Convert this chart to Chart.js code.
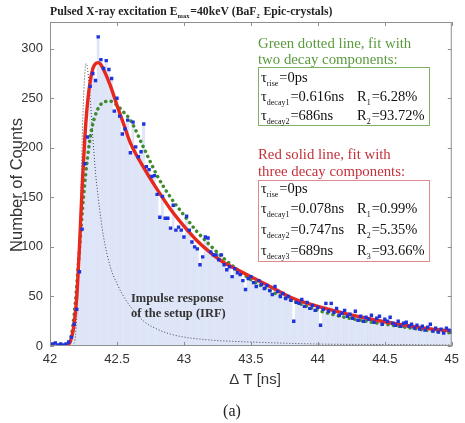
<!DOCTYPE html>
<html>
<head>
<meta charset="utf-8">
<script src="https://cdn.jsdelivr.net/npm/chart.js@4.4.0/dist/chart.umd.min.js"></script>
<style>
  html, body { margin: 0; padding: 0; background: #fff; }
  #wrap { width: 465px; height: 423px; }
</style>
</head>
<body>
<div id="wrap"><canvas id="grafico"></canvas></div>
<script>
// Bins del histograma (ns) y cuentas medidas
const binT = [
  42.00,42.02,42.04,42.06,42.08,42.10,42.12,42.14,42.16,42.18,
  42.20,42.22,42.24,42.26,42.28,42.30,42.32,42.34,42.36,42.38,
  42.40,42.42,42.44,42.46,42.48,42.50,42.52,42.54,42.56,42.58,
  42.60,42.62,42.64,42.66,42.68,42.70,42.72,42.74,42.76,42.78,
  42.80,42.82,42.84,42.86,42.88,42.90,42.92,42.94,42.96,42.98,
  43.00,43.02,43.04,43.06,43.08,43.10,43.12,43.14,43.16,43.18,
  43.20,43.22,43.24,43.26,43.28,43.30,43.32,43.34,43.36,43.38,
  43.40,43.42,43.44,43.46,43.48,43.50,43.52,43.54,43.56,43.58,
  43.60,43.62,43.64,43.66,43.68,43.70,43.72,43.74,43.76,43.78,
  43.80,43.82,43.84,43.86,43.88,43.90,43.92,43.94,43.96,43.98,
  44.00,44.02,44.04,44.06,44.08,44.10,44.12,44.14,44.16,44.18,
  44.20,44.22,44.24,44.26,44.28,44.30,44.32,44.34,44.36,44.38,
  44.40,44.42,44.44,44.46,44.48,44.50,44.52,44.54,44.56,44.58,
  44.60,44.62,44.64,44.66,44.68,44.70,44.72,44.74,44.76,44.78,
  44.80,44.82,44.84,44.86,44.88,44.90,44.92,44.94,44.96,44.98,
  45.00
];
const counts = [
  1,2,3,1,2,1,2,4,9,22,
  37,75,118,184,211,262,275,268,312,289,
  280,288,279,270,237,250,232,214,219,228,
  195,226,201,191,196,224,181,178,171,172,
  153,130,151,129,129,119,142,117,120,117,
  110,131,117,105,100,98,82,90,110,109,
  95,92,92,87,92,82,77,80,70,78,
  74,72,66,57,68,70,64,60,66,62,
  58,61,56,52,60,55,50,53,48,50,
  46,25,44,43,47,40,44,38,41,36,
  39,21,37,43,35,43,34,38,31,33,
  36,30,32,28,35,26,30,25,29,27,
  31,24,28,30,22,27,25,29,23,21,
  25,20,23,24,20,22,18,21,17,20,
  16,19,22,15,18,14,17,13,18,16,
  14
];

// Ajuste de tres componentes (línea roja)
const redT = [42.10,42.14,42.16,42.18,42.20,42.22,42.24,42.26,42.28,42.30,42.32,42.34,42.36,42.38,42.40,42.45,42.50,42.55,42.60,42.70,42.80,42.90,43.00,43.10,43.20,43.30,43.40,43.50,43.60,43.70,43.80,43.90,44.00,44.20,44.40,44.60,44.80,45.00];
const redY = [0,2,8,22,50,100,160,210,245,267,280,285,286,284,279,263,243,224,205,180,158,138,121,106,94,84,77,70,63,56,49,44,40,33,27,22,18,15];

// Ajuste de dos componentes (línea verde punteada)
const greenT = [42.12,42.15,42.17,42.19,42.21,42.23,42.25,42.28,42.31,42.35,42.40,42.45,42.50,42.55,42.60,42.70,42.80,42.90,43.00,43.10,43.20,43.30,43.40,43.50,43.60,43.70,43.80,43.90,44.00,44.20,44.40,44.60,44.80,45.00];
const greenY = [0,5,20,45,80,115,150,190,218,237,246,247,243,236,228,200,172,150,132,115,101,88,77,67,59,52,46,41,36,29,24,20,16,13];

// Respuesta al impulso (IRF)
const irfT = [42.17,42.19,42.21,42.23,42.245,42.26,42.27,42.28,42.30,42.32,42.34,42.36,42.38,42.40,42.45,42.50,42.55,42.60,42.70,42.80,42.90,43.00,43.20,43.50,44.00,44.50,45.00];
const irfY = [0,10,60,150,230,275,285,280,250,210,175,150,128,110,80,63,50,40,25,17,12,9,6,4,2,1.5,1];

const xTicks = [42, 42.5, 43, 43.5, 44, 44.5, 45];
const yTicks = [0, 50, 100, 150, 200, 250, 300];

const serif = '"Liberation Serif", "DejaVu Serif", serif';
const sans = '"Liberation Sans", Arial, sans-serif';

function pares(xs, ys) {
    return xs.map((x, i) => ({ x: x, y: ys[i] }));
}

// Dibuja texto con subíndices: runs = [[texto, esSub]]
function textoSub(ctx, x, y, runs, size, color, weight) {
    let cx = x;
    weight = weight || '';
    runs.forEach(r => {
        const sub = r[1];
        const fs = sub ? size * 0.55 : size;
        ctx.font = weight + ' ' + fs + 'px ' + serif;
        ctx.fillStyle = color;
        ctx.textBaseline = 'alphabetic';
        ctx.textAlign = 'left';
        ctx.fillText(r[0], cx, y + (sub ? size * 0.28 : 0));
        cx += ctx.measureText(r[0]).width + (sub ? 1 : 0);
    });
    return cx;
}

const marcoPlugin = {
    id: 'marco',
    afterDatasetsDraw(chart) {
        const ctx = chart.ctx;
        const a = chart.chartArea;
        const sx = chart.scales.x, sy = chart.scales.y;
        ctx.save();
        ctx.strokeStyle = '#8f8f8f';
        ctx.lineWidth = 1;
        ctx.strokeRect(a.left + 0.5, a.top + 0.5, a.right - a.left - 1, a.bottom - a.top - 1);
        ctx.beginPath();
        xTicks.forEach(v => {
            const px = Math.round(sx.getPixelForValue(v)) + 0.5;
            ctx.moveTo(px, a.bottom); ctx.lineTo(px, a.bottom - 4);
            ctx.moveTo(px, a.top); ctx.lineTo(px, a.top + 4);
        });
        yTicks.forEach(v => {
            const py = Math.round(sy.getPixelForValue(v)) + 0.5;
            ctx.moveTo(a.left, py); ctx.lineTo(a.left + 4, py);
            ctx.moveTo(a.right, py); ctx.lineTo(a.right - 4, py);
        });
        ctx.stroke();
        ctx.restore();
    },
    afterDraw(chart) {
        const ctx = chart.ctx;
        ctx.save();
        // título
        textoSub(ctx, 50, 15, [['Pulsed X-ray excitation E', 0], ['max', 1], ['=40keV (BaF', 0], ['2', 1], [' Epic-crystals)', 0]], 11.7, '#222', 'bold');

        // etiquetas de ejes
        ctx.fillStyle = '#333';
        ctx.font = '15px ' + sans;
        ctx.textAlign = 'center';
        ctx.textBaseline = 'middle';
        ctx.fillText('\u0394 T [ns]', 255, 380);
        ctx.save();
        ctx.translate(17, 185);
        ctx.rotate(-Math.PI / 2);
        ctx.font = '16.5px ' + sans;
        ctx.fillText('Number of Counts', 0, 0);
        ctx.restore();
        ctx.font = '16px ' + serif;
        ctx.fillStyle = '#222';
        ctx.fillText('(a)', 232, 412);

        // cuadro verde
        const verde = '#5a9a3c';
        ctx.font = '14.8px ' + serif;
        ctx.fillStyle = verde;
        ctx.textAlign = 'left';
        ctx.textBaseline = 'alphabetic';
        ctx.fillText('Green dotted line, fit with', 258, 48);
        ctx.fillText('two decay components:', 258, 64);
        ctx.strokeStyle = '#7fb06a';
        ctx.lineWidth = 1;
        ctx.strokeRect(258.5, 67.5, 171, 58);
        const fs = 14.5, negro = '#111';
        textoSub(ctx, 261, 82, [['\u03c4', 0], ['rise', 1], ['=0ps', 0]], fs, negro);
        textoSub(ctx, 261, 101, [['\u03c4', 0], ['decay1', 1], ['=0.616ns', 0]], fs, negro);
        textoSub(ctx, 357, 101, [['R', 0], ['1', 1], ['=6.28%', 0]], fs, negro);
        textoSub(ctx, 261, 120, [['\u03c4', 0], ['decay2', 1], ['=686ns', 0]], fs, negro);
        textoSub(ctx, 357, 120, [['R', 0], ['2', 1], ['=93.72%', 0]], fs, negro);

        // cuadro rojo
        const rojo = '#c42f3a';
        ctx.font = '14.8px ' + serif;
        ctx.fillStyle = rojo;
        ctx.textAlign = 'left';
        ctx.fillText('Red solid line, fit with', 258, 159);
        ctx.fillText('three decay components:', 258, 176);
        ctx.strokeStyle = '#dc8a8e';
        ctx.strokeRect(258.5, 180.5, 171, 81);
        textoSub(ctx, 261, 193, [['\u03c4', 0], ['rise', 1], ['=0ps', 0]], fs, negro);
        textoSub(ctx, 261, 213, [['\u03c4', 0], ['decay1', 1], ['=0.078ns', 0]], fs, negro);
        textoSub(ctx, 357, 213, [['R', 0], ['1', 1], ['=0.99%', 0]], fs, negro);
        textoSub(ctx, 261, 234, [['\u03c4', 0], ['decay2', 1], ['=0.747ns', 0]], fs, negro);
        textoSub(ctx, 357, 234, [['R', 0], ['2', 1], ['=5.35%', 0]], fs, negro);
        textoSub(ctx, 261, 255, [['\u03c4', 0], ['decay3', 1], ['=689ns', 0]], fs, negro);
        textoSub(ctx, 357, 255, [['R', 0], ['3', 1], ['=93.66%', 0]], fs, negro);

        // anotación IRF
        ctx.font = 'bold 12.5px ' + serif;
        ctx.fillStyle = '#333';
        ctx.fillText('Impulse response', 131, 302);
        ctx.fillText('of the setup (IRF)', 131, 317);
        ctx.restore();
    }
};

const ctx = document.getElementById('grafico').getContext('2d');
const myChart = new Chart(ctx, {
    type: 'bar',
    data: {
        datasets: [
            {
                type: 'scatter',
                label: 'datos',
                data: pares(binT, counts),
                pointStyle: 'rect',
                pointRadius: 2.4,
                backgroundColor: '#1f33dc',
                borderColor: '#1f33dc',
                borderWidth: 0,
                order: 0
            },
            {
                type: 'line',
                label: 'rojo',
                data: pares(redT, redY),
                borderColor: '#e8281e',
                borderWidth: 3.4,
                pointRadius: 0,
                cubicInterpolationMode: 'monotone',
                order: 1
            },
            {
                type: 'line',
                label: 'verde',
                data: pares(greenT, greenY),
                borderColor: '#3f8a2e',
                borderWidth: 3.5,
                borderDash: [0.1, 5.5],
                borderCapStyle: 'round',
                pointRadius: 0,
                cubicInterpolationMode: 'monotone',
                order: 2
            },
            {
                type: 'line',
                label: 'irf',
                data: pares(irfT, irfY),
                borderColor: '#444',
                borderWidth: 1,
                borderDash: [1, 2],
                pointRadius: 0,
                cubicInterpolationMode: 'monotone',
                order: 3
            },
            {
                type: 'bar',
                label: 'histograma',
                data: pares(binT, counts),
                backgroundColor: '#dfe6f8',
                borderColor: 'rgba(175,190,235,0.45)',
                borderWidth: { left: 0.6, right: 0, top: 0, bottom: 0 },
                barPercentage: 1,
                categoryPercentage: 1,
                order: 4
            }
        ]
    },
    options: {
        responsive: true,
        maintainAspectRatio: false,
        animation: false,
        layout: { padding: { left: 0, right: 6, top: 22, bottom: 0 } },
        plugins: { legend: { display: false }, tooltip: { enabled: false } },
        scales: {
            x: {
                type: 'linear',
                min: 42,
                max: 45,
                offset: false,
                afterFit: s => { s.height = 77; },
                afterBuildTicks: s => { s.ticks = xTicks.map(v => ({ value: v })); },
                grid: { display: false, drawTicks: false },
                border: { display: false },
                ticks: {
                    padding: 6,
                    color: '#333',
                    font: { family: sans, size: 13 },
                    maxRotation: 0,
                    callback: v => String(v)
                }
            },
            y: {
                min: 0,
                max: 327,
                afterFit: s => { s.width = 50; },
                afterBuildTicks: s => { s.ticks = yTicks.map(v => ({ value: v })); },
                grid: { display: false, drawTicks: false },
                border: { display: false },
                ticks: {
                    padding: 7,
                    color: '#333',
                    font: { family: sans, size: 13 }
                }
            }
        }
    },
    plugins: [marcoPlugin]
});
</script>
</body>
</html>
